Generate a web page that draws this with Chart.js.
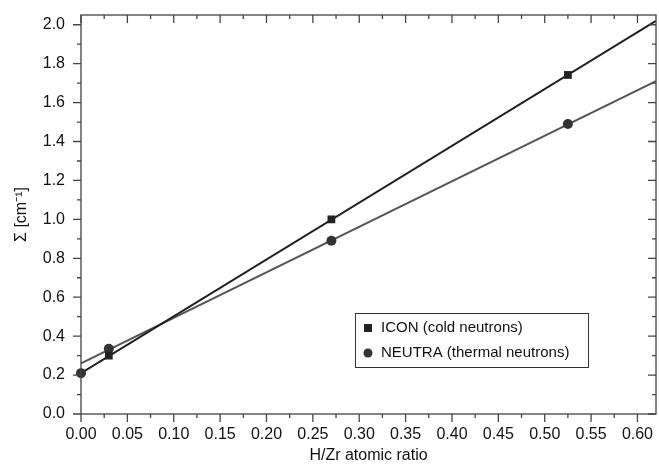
<!DOCTYPE html>
<html>
<head>
<meta charset="utf-8">
<script src="https://cdn.jsdelivr.net/npm/chart.js@4.4.1/dist/chart.umd.min.js"></script>
<style>
  html, body { margin: 0; padding: 0; background: #fff; }
  canvas { display: block; }
</style>
</head>
<body>
<canvas id="chart" width="659" height="466"></canvas>
<script>
// Data
var iconX = [0.03, 0.27, 0.525];
var iconY = [0.30, 1.00, 1.742];
var neutraX = [0.0, 0.03, 0.27, 0.525];
var neutraY = [0.21, 0.335, 0.89, 1.49];

// Linear fits (end points)
var fitX = [0.0, 0.62];
var iconFit = [0.21, 2.02];
var neutraFit = [0.26, 1.71];

var labels = ['ICON (cold neutrons)', 'NEUTRA (thermal neutrons)'];

var fontFamily = '"Liberation Sans", Arial, Helvetica, sans-serif';

function toPoints(xs, ys) {
    return xs.map(function (x, i) { return { x: x, y: ys[i] }; });
}

// Frame + minor/major ticks like the original plot
var frameTicks = {
    id: 'frameTicks',
    afterDraw: function (chart) {
        var ctx = chart.ctx;
        var a = chart.chartArea;
        var xs = chart.scales.x;
        var ys = chart.scales.y;
        ctx.save();
        ctx.strokeStyle = '#444';
        ctx.lineWidth = 1.3;
        ctx.strokeRect(a.left, a.top, a.right - a.left, a.bottom - a.top);

        function drawTicks(scale, horiz) {
            var vals = scale.ticks.map(function (t) { return t.value; });
            var all = [];
            vals.forEach(function (v, i) {
                all.push({ v: v, major: true });
                if (i < vals.length - 1) all.push({ v: (v + vals[i + 1]) / 2, major: false });
            });
            all.forEach(function (t) {
                var p = scale.getPixelForValue(t.v);
                var len = t.major ? 8 : 4;
                ctx.beginPath();
                if (horiz) {
                    ctx.moveTo(p, a.bottom); ctx.lineTo(p, a.bottom + len); // outward
                    ctx.moveTo(p, a.top); ctx.lineTo(p, a.top + len);       // inward
                } else {
                    ctx.moveTo(a.left, p); ctx.lineTo(a.left - len, p);
                    ctx.moveTo(a.right, p); ctx.lineTo(a.right - len, p);
                }
                ctx.stroke();
            });
        }
        drawTicks(xs, true);
        drawTicks(ys, false);
        ctx.restore();
    }
};

// Boxed legend inside the plot
var boxLegend = {
    id: 'boxLegend',
    afterDraw: function (chart) {
        var ctx = chart.ctx;
        ctx.save();
        ctx.strokeStyle = '#333';
        ctx.lineWidth = 1;
        ctx.strokeRect(355.5, 313.5, 233, 54);
        ctx.font = '15px ' + fontFamily;
        ctx.textBaseline = 'middle';
        // ICON
        ctx.fillStyle = '#222';
        ctx.fillRect(364, 324, 8, 8);
        ctx.fillStyle = '#111';
        ctx.fillText(chart.data.datasets[0].label, 381, 328);
        // NEUTRA
        ctx.fillStyle = '#333';
        ctx.beginPath();
        ctx.arc(368, 353, 4.5, 0, Math.PI * 2);
        ctx.fill();
        ctx.fillStyle = '#111';
        ctx.fillText(chart.data.datasets[1].label, 381, 353);
        ctx.restore();
    }
};

var data = {
    datasets: [
        {
            type: 'scatter',
            label: labels[0],
            data: toPoints(iconX, iconY),
            pointStyle: 'rect',
            pointRadius: 5.5,
            backgroundColor: '#222',
            borderColor: '#222',
            borderWidth: 0,
            clip: false
        },
        {
            type: 'scatter',
            label: labels[1],
            data: toPoints(neutraX, neutraY),
            pointStyle: 'circle',
            pointRadius: 5,
            backgroundColor: '#333',
            borderColor: '#333',
            borderWidth: 0,
            clip: false
        },
        {
            type: 'line',
            label: 'ICON fit',
            data: toPoints(fitX, iconFit),
            borderColor: '#1f1f1f',
            borderWidth: 2,
            pointRadius: 0
        },
        {
            type: 'line',
            label: 'NEUTRA fit',
            data: toPoints(fitX, neutraFit),
            borderColor: '#555',
            borderWidth: 2,
            pointRadius: 0
        }
    ]
};

var config = {
    type: 'scatter',
    data: data,
    options: {
        responsive: false,
        animation: false,
        devicePixelRatio: 1,
        layout: {
            autoPadding: false,
            padding: { left: 0, top: 15, right: 3, bottom: 0 }
        },
        plugins: {
            legend: { display: false },
            tooltip: { enabled: false }
        },
        scales: {
            x: {
                type: 'linear',
                min: 0,
                max: 0.62,
                grid: { display: false },
                border: { display: false },
                afterFit: function (scale) {
                    scale.height = 52;
                    scale.paddingLeft = 0;
                    scale.paddingRight = 0;
                },
                ticks: {
                    stepSize: 0.05,
                    includeBounds: false,
                    autoSkip: false,
                    maxRotation: 0,
                    padding: 3,
                    color: '#111',
                    font: { family: fontFamily, size: 16 },
                    callback: function (v) { return v.toFixed(2); }
                },
                title: {
                    display: true,
                    text: 'H/Zr atomic ratio',
                    color: '#111',
                    padding: { top: 0, bottom: 1 },
                    font: { family: fontFamily, size: 16 }
                }
            },
            y: {
                type: 'linear',
                min: 0,
                max: 2.05,
                grid: { display: false },
                border: { display: false },
                afterFit: function (scale) {
                    scale.width = 81;
                    scale.paddingTop = 0;
                    scale.paddingBottom = 0;
                },
                ticks: {
                    stepSize: 0.2,
                    includeBounds: false,
                    padding: 8,
                    color: '#111',
                    font: { family: fontFamily, size: 16 },
                    callback: function (v) { return v.toFixed(1); }
                },
                title: {
                    display: true,
                    text: 'Σ [cm⁻¹]',
                    color: '#111',
                    padding: { top: 12, bottom: 0 },
                    font: { family: fontFamily, size: 16 }
                }
            }
        }
    },
    plugins: [frameTicks, boxLegend]
};

var myChart = new Chart(document.getElementById('chart').getContext('2d'), config);
</script>
</body>
</html>
